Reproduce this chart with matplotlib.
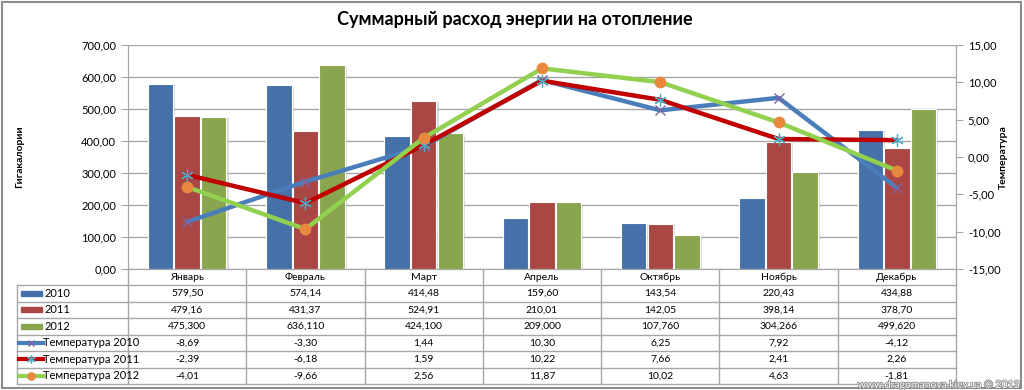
import matplotlib.pyplot as plt
import matplotlib.patheffects as pe
from matplotlib.transforms import blended_transform_factory
from matplotlib.lines import Line2D
from matplotlib.patches import Rectangle

plt.rcParams['font.family'] = ['Lato', 'DejaVu Sans']

months = ["Январь", "Февраль", "Март", "Апрель", "Октябрь", "Ноябрь", "Декабрь"]
energy_2010 = [579.50, 574.14, 414.48, 159.60, 143.54, 220.43, 434.88]
energy_2011 = [479.16, 431.37, 524.91, 210.01, 142.05, 398.14, 378.70]
energy_2012 = [475.300, 636.110, 424.100, 209.000, 107.760, 304.266, 499.620]
temp_2010 = [-8.69, -3.30, 1.44, 10.30, 6.25, 7.92, -4.12]
temp_2011 = [-2.39, -6.18, 1.59, 10.22, 7.66, 2.41, 2.26]
temp_2012 = [-4.01, -9.66, 2.56, 11.87, 10.02, 4.63, -1.81]

W, H = 1024, 390
fig = plt.figure(figsize=(W / 100, H / 100), dpi=100)


def fy(py):
    return 1 - py / H


def fx(px):
    return px / W


ax_left, ax_right, ax_top, ax_bottom = 128, 956, 45, 269
ax = fig.add_axes([fx(ax_left), fy(ax_bottom), fx(ax_right - ax_left), (ax_bottom - ax_top) / H])
ax2 = ax.twinx()

x = list(range(len(months)))
bar_w = 0.215
bar_cols = ["#4571A8", "#AA4744", "#89A54E"]
shadow = [pe.SimplePatchShadow(offset=(1.5, -1), shadow_rgbFace="#bbbbbb", alpha=0.5), pe.Normal()]
for vals, off, c in zip([energy_2010, energy_2011, energy_2012], [-0.225, 0, 0.225], bar_cols):
    bars = ax.bar([i + off for i in x], vals, width=bar_w, color=c, edgecolor="white", linewidth=0.8, zorder=3)
    for b in bars:
        b.set_path_effects(shadow)

line_specs = [
    (temp_2010, "#4A7EBB", "x", "#8064A2", 7, 1.0),
    (temp_2011, "#C00000", (6, 2, 0), "#4BACC6", 9, 0.9),
    (temp_2012, "#92D050", "o", "#E8893F", 7.5, 1.0),
]
for vals, lc, m, mc, ms, mew in line_specs:
    ax2.plot(x, vals, color=lc, lw=3.2, marker=m, markersize=ms, markerfacecolor=mc,
             markeredgecolor=mc, markeredgewidth=mew, zorder=4, solid_capstyle="round")

ax.set_xlim(-0.5, len(months) - 0.5)
ax.set_ylim(0, 700)
ax.set_yticks(range(0, 701, 100))
ax.set_yticklabels([f"{v:.2f}".replace(".", ",") for v in range(0, 701, 100)], fontsize=8)
ax2.set_ylim(-15, 15)
ax2.set_yticks(range(-15, 16, 5))
ax2.set_yticklabels([f"{v:.2f}".replace(".", ",") for v in range(-15, 16, 5)], fontsize=8)
ax.set_xticks([])
ax.grid(axis="y", color="#A6A6A6", lw=1, zorder=0)
ax.set_axisbelow(True)
for a in (ax, ax2):
    a.spines["top"].set_visible(False)
    a.spines["left"].set_color("#A6A6A6")
    a.spines["right"].set_color("#A6A6A6")
    a.spines["bottom"].set_color("#A6A6A6")
    a.tick_params(axis="y", colors="#A6A6A6", labelcolor="black", length=5)
ax.set_zorder(1)
ax2.set_zorder(2)
ax.patch.set_visible(False)

fig.text(0.503, fy(20), "Суммарный расход энергии на отопление", ha="center", va="center",
         fontsize=13, fontweight="bold")
fig.text(fx(20), fy(157), "Гигакалории", rotation=90, ha="center", va="center",
         fontsize=7.5, fontweight="bold")
fig.text(fx(1003), fy(157), "Температура", rotation=90, ha="center", va="center",
         fontsize=7.5, fontweight="bold")

# data table
tr = blended_transform_factory(ax.transData, fig.transFigure)
grid_c = "#A6A6A6"
row_edges = [285, 301.5, 318, 334.5, 351, 367.5, 384]
tab_left = 17
for i in range(len(months) + 1):
    fig.add_artist(Line2D([i - 0.5, i - 0.5], [fy(ax_bottom), fy(row_edges[-1])], transform=tr,
                          color=grid_c, lw=1))
for ry in row_edges:
    fig.add_artist(Line2D([fx(tab_left), fx(ax_right)], [fy(ry), fy(ry)], color=grid_c, lw=1))
fig.add_artist(Line2D([fx(tab_left), fx(tab_left)], [fy(row_edges[0]), fy(row_edges[-1])], color=grid_c, lw=1))

for i, m in enumerate(months):
    fig.text(i, fy(277), m, transform=tr, ha="center", va="center", fontsize=7.5)

rows = [
    ("2010", energy_2010, 2),
    ("2011", energy_2011, 2),
    ("2012", energy_2012, 3),
    ("Температура 2010", temp_2010, 2),
    ("Температура 2011", temp_2011, 2),
    ("Температура 2012", temp_2012, 2),
]
for r, (label, vals, dec) in enumerate(rows):
    cy = fy((row_edges[r] + row_edges[r + 1]) / 2)
    for i, v in enumerate(vals):
        fig.text(i, cy, f"{v:.{dec}f}".replace(".", ","), transform=tr, ha="center", va="center", fontsize=7.5)
    if r < 3:
        fig.add_artist(Rectangle((fx(21), cy - 2.5 / H), fx(21), 5 / H, color=bar_cols[r]))
        fig.text(fx(45), cy, label, ha="left", va="center", fontsize=8)
    else:
        vals_, lc, m, mc, ms, mew = line_specs[r - 3]
        fig.add_artist(Line2D([fx(19), fx(43)], [cy, cy], color=lc, lw=3))
        fig.add_artist(Line2D([fx(31)], [cy], marker=m, markersize=ms * 0.7, markerfacecolor=mc,
                              markeredgecolor=mc, markeredgewidth=mew, linestyle="none"))
        fig.text(fx(43), cy, label, ha="left", va="center", fontsize=8)

fig.text(fx(1019), fy(385), "www.dragomanova.kiev.ua © 2013", ha="right", va="center",
         fontsize=7.5, color="white",
         path_effects=[pe.withStroke(linewidth=1.2, foreground="#8a8a8a")])

fig.add_artist(Rectangle((0.002, 0.004), 0.995, 0.99, fill=False, edgecolor="#8c8c8c", lw=1.5))

fig.savefig("out.png", dpi=100)
